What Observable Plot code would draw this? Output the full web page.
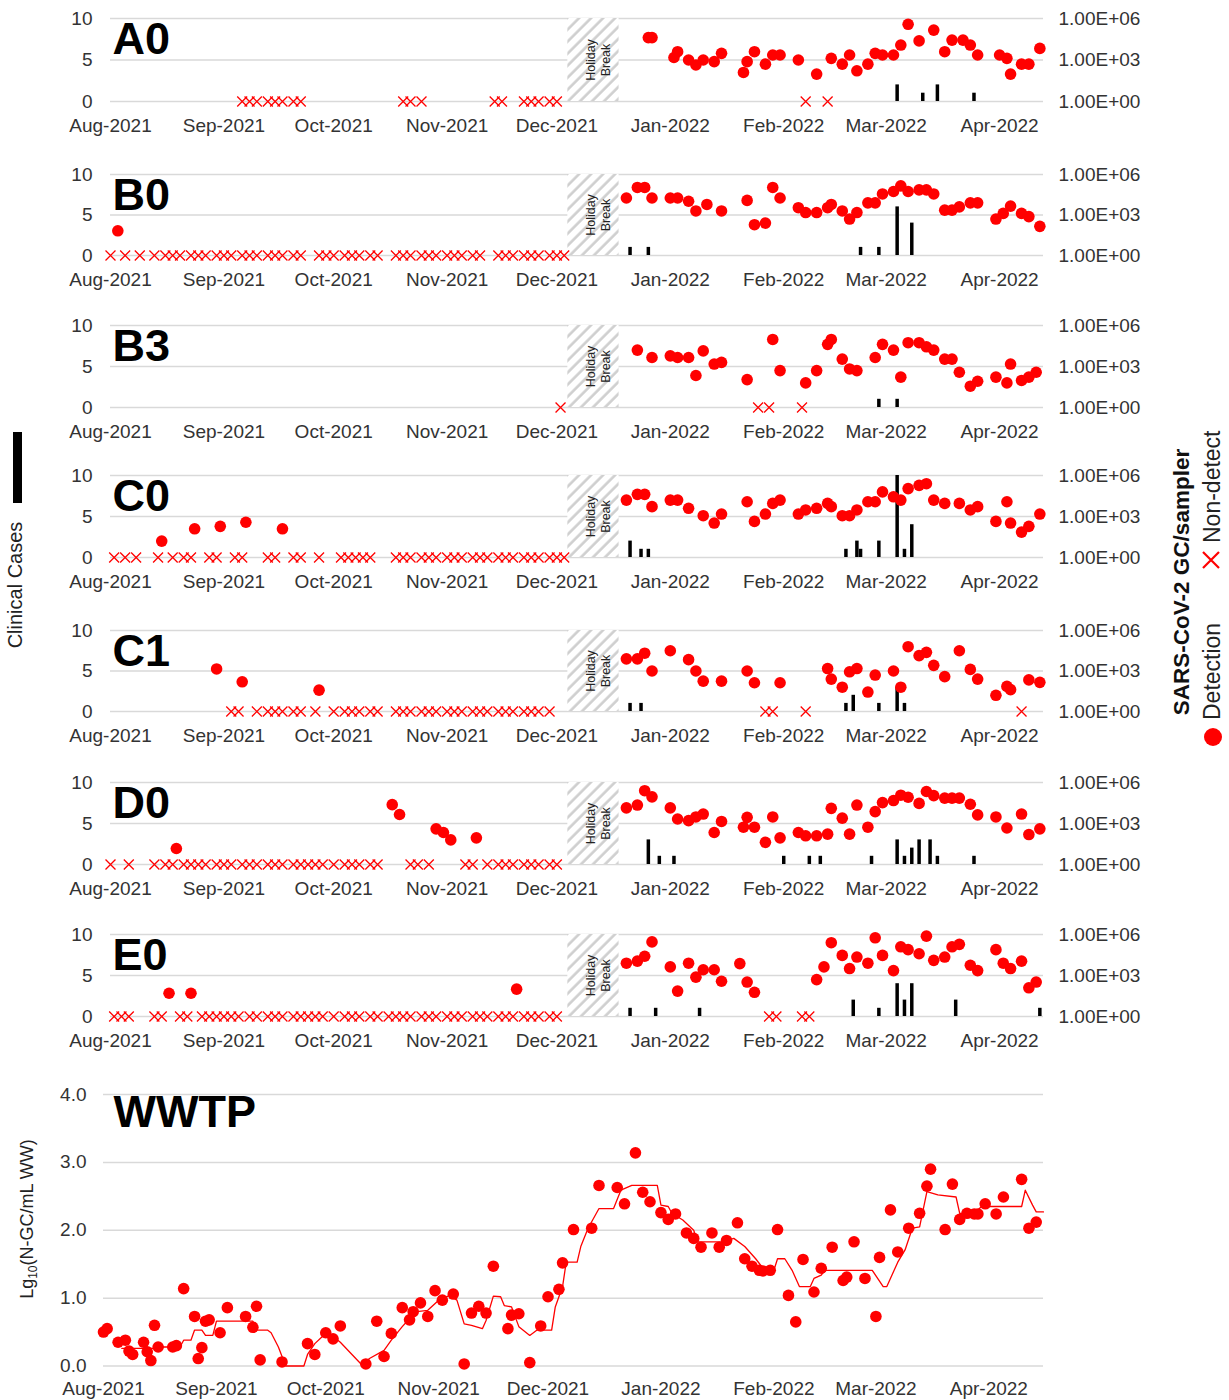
<!DOCTYPE html>
<html><head><meta charset="utf-8">
<script src="https://cdn.jsdelivr.net/npm/d3@7"></script>
<script src="https://cdn.jsdelivr.net/npm/@observablehq/plot@0.6"></script>
<style>
body{margin:0;background:#fff;}
#root{position:relative;width:1229px;height:1400px;overflow:hidden;background:#fff;font-family:'Liberation Sans',Arial,Helvetica,sans-serif;}
#root > svg{position:absolute;left:0;}
</style></head><body><div id="root"></div>
<script>
// ---------------- DATA ----------------
const sites = ["A0","B0","B3","C0","C1","D0","E0"];
const holidayBreak = ["2021-12-04","2021-12-18"];
const gcTickLabels = ["1.00E+00","1.00E+03","1.00E+06"]; // right axis, 10^0, 10^3, 10^6 GC/sampler

// detections: [date, log10 GC/sampler]
const A0_detect = [["2021-12-26",4.62],["2021-12-27",4.62],["2022-01-02",3.18],["2022-01-03",3.6],["2022-01-06",3.0],["2022-01-08",2.64],["2022-01-10",3.0],["2022-01-13",2.88],["2022-01-15",3.48],["2022-01-21",2.1],["2022-01-22",2.88],["2022-01-24",3.6],["2022-01-27",2.7],["2022-01-29",3.36],["2022-01-31",3.36],["2022-02-05",3.0],["2022-02-10",1.98],["2022-02-14",3.12],["2022-02-17",2.7],["2022-02-19",3.36],["2022-02-21",2.22],["2022-02-24",2.7],["2022-02-26",3.48],["2022-02-28",3.36],["2022-03-03",3.36],["2022-03-05",4.08],["2022-03-07",5.58],["2022-03-10",4.38],["2022-03-14",5.16],["2022-03-17",3.6],["2022-03-19",4.44],["2022-03-22",4.44],["2022-03-24",4.08],["2022-03-26",3.36],["2022-04-01",3.36],["2022-04-03",3.12],["2022-04-04",1.98],["2022-04-07",2.7],["2022-04-09",2.7],["2022-04-12",3.84]];
const A0_nondetect = ["2021-09-06","2021-09-08","2021-09-10","2021-09-13","2021-09-15","2021-09-17","2021-09-20","2021-09-22","2021-10-20","2021-10-22","2021-10-25","2021-11-14","2021-11-16","2021-11-22","2021-11-24","2021-11-26","2021-11-29","2021-12-01","2022-02-07","2022-02-13"];
const A0_cases = [["2022-03-04",2],["2022-03-11",1],["2022-03-15",2],["2022-03-25",1]];

const B0_detect = [["2021-08-03",1.83],["2021-12-20",4.26],["2021-12-23",5.04],["2021-12-25",5.04],["2021-12-27",4.26],["2022-01-01",4.26],["2022-01-03",4.26],["2022-01-06",4.02],["2022-01-08",3.3],["2022-01-11",3.78],["2022-01-15",3.3],["2022-01-22",4.08],["2022-01-24",2.28],["2022-01-27",2.4],["2022-01-29",5.04],["2022-01-31",4.26],["2022-02-05",3.54],["2022-02-07",3.18],["2022-02-10",3.18],["2022-02-13",3.54],["2022-02-14",3.78],["2022-02-17",3.3],["2022-02-19",2.7],["2022-02-21",3.18],["2022-02-24",3.9],["2022-02-26",3.9],["2022-02-28",4.56],["2022-03-03",4.74],["2022-03-05",5.16],["2022-03-07",4.74],["2022-03-10",4.86],["2022-03-12",4.86],["2022-03-14",4.56],["2022-03-17",3.36],["2022-03-19",3.36],["2022-03-21",3.6],["2022-03-24",3.9],["2022-03-26",3.9],["2022-03-31",2.7],["2022-04-02",3.12],["2022-04-04",3.66],["2022-04-07",3.12],["2022-04-09",2.88],["2022-04-12",2.16]];
const B0_nondetect = ["2021-08-01","2021-08-05","2021-08-09","2021-08-13","2021-08-16","2021-08-18","2021-08-20","2021-08-23","2021-08-25","2021-08-27","2021-08-30","2021-09-01","2021-09-03","2021-09-06","2021-09-08","2021-09-10","2021-09-13","2021-09-15","2021-09-17","2021-09-20","2021-09-22","2021-09-27","2021-09-29","2021-10-01","2021-10-04","2021-10-06","2021-10-08","2021-10-11","2021-10-13","2021-10-18","2021-10-20","2021-10-22","2021-10-25","2021-10-27","2021-10-29","2021-11-01","2021-11-03","2021-11-05","2021-11-08","2021-11-10","2021-11-15","2021-11-17","2021-11-19","2021-11-22","2021-11-24","2021-11-26","2021-11-29","2021-12-01","2021-12-03"];
const B0_cases = [["2021-12-21",1],["2021-12-26",1],["2022-02-22",1],["2022-02-27",1],["2022-03-04",6],["2022-03-08",4]];

const B3_detect = [["2021-12-23",4.2],["2021-12-27",3.66],["2022-01-01",3.78],["2022-01-03",3.66],["2022-01-06",3.66],["2022-01-08",2.34],["2022-01-10",4.14],["2022-01-13",3.18],["2022-01-15",3.3],["2022-01-22",2.04],["2022-01-29",4.98],["2022-01-31",2.7],["2022-02-07",1.8],["2022-02-10",2.7],["2022-02-13",4.62],["2022-02-14",4.98],["2022-02-17",3.54],["2022-02-19",2.82],["2022-02-21",2.7],["2022-02-26",3.66],["2022-02-28",4.62],["2022-03-03",4.2],["2022-03-05",2.22],["2022-03-07",4.74],["2022-03-10",4.74],["2022-03-12",4.44],["2022-03-14",4.2],["2022-03-17",3.54],["2022-03-19",3.54],["2022-03-21",2.58],["2022-03-24",1.56],["2022-03-26",1.92],["2022-03-31",2.22],["2022-04-03",1.8],["2022-04-04",3.18],["2022-04-07",1.98],["2022-04-09",2.22],["2022-04-11",2.58]];
const B3_nondetect = ["2021-12-02","2022-01-25","2022-01-28","2022-02-06"];
const B3_cases = [["2022-02-27",1],["2022-03-04",1]];

const C0_detect = [["2021-08-15",1.2],["2021-08-24",2.1],["2021-08-31",2.28],["2021-09-07",2.58],["2021-09-17",2.1],["2021-12-20",4.2],["2021-12-23",4.62],["2021-12-25",4.62],["2021-12-27",3.72],["2022-01-01",4.2],["2022-01-03",4.2],["2022-01-06",3.6],["2022-01-10",3.06],["2022-01-13",2.52],["2022-01-15",3.18],["2022-01-22",4.08],["2022-01-24",2.64],["2022-01-27",3.18],["2022-01-29",3.96],["2022-01-31",4.2],["2022-02-05",3.18],["2022-02-07",3.48],["2022-02-10",3.6],["2022-02-13",3.96],["2022-02-14",3.72],["2022-02-17",3.06],["2022-02-19",3.06],["2022-02-21",3.48],["2022-02-24",4.08],["2022-02-26",4.08],["2022-02-28",4.8],["2022-03-03",4.44],["2022-03-05",4.2],["2022-03-07",5.04],["2022-03-10",5.28],["2022-03-12",5.4],["2022-03-14",4.2],["2022-03-17",3.96],["2022-03-21",3.96],["2022-03-24",3.48],["2022-03-26",3.72],["2022-03-31",2.64],["2022-04-03",4.08],["2022-04-04",2.52],["2022-04-07",1.86],["2022-04-09",2.28],["2022-04-12",3.18]];
const C0_nondetect = ["2021-08-02","2021-08-05","2021-08-08","2021-08-14","2021-08-18","2021-08-21","2021-08-23","2021-08-28","2021-08-30","2021-09-04","2021-09-06","2021-09-13","2021-09-15","2021-09-20","2021-09-22","2021-09-27","2021-10-03","2021-10-05","2021-10-07","2021-10-09","2021-10-11","2021-10-18","2021-10-20","2021-10-22","2021-10-25","2021-10-27","2021-10-29","2021-11-01","2021-11-03","2021-11-05","2021-11-08","2021-11-10","2021-11-12","2021-11-15","2021-11-17","2021-11-19","2021-11-22","2021-11-24","2021-11-26","2021-11-29","2021-12-01","2021-12-03"];
const C0_cases = [["2021-12-21",2],["2021-12-24",1],["2021-12-26",1],["2022-02-18",1],["2022-02-21",2],["2022-02-22",1],["2022-02-27",2],["2022-03-04",10],["2022-03-06",1],["2022-03-08",4]];

const C1_detect = [["2021-08-30",3.15],["2021-09-06",2.2],["2021-09-27",1.58],["2021-12-20",3.9],["2021-12-23",3.9],["2021-12-25",4.32],["2021-12-27",3.0],["2022-01-01",4.5],["2022-01-06",3.84],["2022-01-08",3.0],["2022-01-10",2.25],["2022-01-15",2.25],["2022-01-22",3.0],["2022-01-24",2.13],["2022-01-31",2.13],["2022-02-13",3.18],["2022-02-14",2.4],["2022-02-17",1.8],["2022-02-19",2.94],["2022-02-21",3.18],["2022-02-24",1.44],["2022-02-26",2.7],["2022-03-03",3.0],["2022-03-05",1.8],["2022-03-07",4.8],["2022-03-10",4.14],["2022-03-12",4.38],["2022-03-14",3.42],["2022-03-17",2.58],["2022-03-21",4.5],["2022-03-24",3.12],["2022-03-26",2.4],["2022-03-31",1.2],["2022-04-03",1.86],["2022-04-04",1.62],["2022-04-09",2.34],["2022-04-12",2.16]];
const C1_nondetect = ["2021-09-03","2021-09-05","2021-09-10","2021-09-13","2021-09-15","2021-09-17","2021-09-20","2021-09-22","2021-09-26","2021-10-01","2021-10-04","2021-10-06","2021-10-08","2021-10-11","2021-10-13","2021-10-18","2021-10-20","2021-10-22","2021-10-25","2021-10-27","2021-10-29","2021-11-01","2021-11-03","2021-11-05","2021-11-08","2021-11-10","2021-11-12","2021-11-15","2021-11-17","2021-11-19","2021-11-22","2021-11-24","2021-11-26","2021-11-29","2022-01-27","2022-01-29","2022-02-07","2022-04-07"];
const C1_cases = [["2021-12-21",1],["2021-12-24",1],["2022-02-18",1],["2022-02-20",2],["2022-02-27",1],["2022-03-04",3],["2022-03-06",1]];

const D0_detect = [["2021-08-19",1.17],["2021-10-17",4.38],["2021-10-19",3.66],["2021-10-29",2.61],["2021-10-31",2.34],["2021-11-02",1.8],["2021-11-09",1.95],["2021-12-20",4.14],["2021-12-23",4.35],["2021-12-25",5.4],["2021-12-27",4.95],["2022-01-01",4.14],["2022-01-03",3.33],["2022-01-06",3.21],["2022-01-08",3.48],["2022-01-10",3.69],["2022-01-13",2.34],["2022-01-15",3.15],["2022-01-21",2.73],["2022-01-22",3.45],["2022-01-24",2.73],["2022-01-27",1.62],["2022-01-29",3.48],["2022-01-31",1.95],["2022-02-05",2.34],["2022-02-07",2.1],["2022-02-10",2.1],["2022-02-13",2.22],["2022-02-14",4.11],["2022-02-17",3.39],["2022-02-19",2.22],["2022-02-21",4.35],["2022-02-24",2.73],["2022-02-26",3.87],["2022-02-28",4.53],["2022-03-03",4.68],["2022-03-05",5.07],["2022-03-07",4.92],["2022-03-10",4.47],["2022-03-12",5.34],["2022-03-14",5.04],["2022-03-17",4.86],["2022-03-19",4.86],["2022-03-21",4.86],["2022-03-24",4.41],["2022-03-26",3.63],["2022-03-31",3.48],["2022-04-03",2.67],["2022-04-07",3.69],["2022-04-09",2.19],["2022-04-12",2.61]];
const D0_nondetect = ["2021-08-01","2021-08-06","2021-08-13","2021-08-16","2021-08-18","2021-08-21","2021-08-23","2021-08-25","2021-08-27","2021-08-30","2021-09-01","2021-09-03","2021-09-06","2021-09-08","2021-09-10","2021-09-13","2021-09-15","2021-09-17","2021-09-20","2021-09-22","2021-09-24","2021-09-26","2021-09-28","2021-10-01","2021-10-04","2021-10-06","2021-10-08","2021-10-11","2021-10-13","2021-10-22","2021-10-24","2021-10-27","2021-11-06","2021-11-08","2021-11-12","2021-11-15","2021-11-17","2021-11-19","2021-11-22","2021-11-24","2021-11-26","2021-11-29","2021-12-01"];
const D0_cases = [["2021-12-26",3],["2021-12-29",1],["2022-01-02",1],["2022-02-01",1],["2022-02-08",1],["2022-02-11",1],["2022-02-25",1],["2022-03-04",3],["2022-03-06",1],["2022-03-08",2],["2022-03-10",3],["2022-03-13",3],["2022-03-15",1],["2022-03-25",1]];

const E0_detect = [["2021-08-17",1.7],["2021-08-23",1.7],["2021-11-20",2.0],["2021-12-20",3.9],["2021-12-23",4.05],["2021-12-25",4.41],["2021-12-27",5.46],["2022-01-01",3.63],["2022-01-03",1.86],["2022-01-06",3.9],["2022-01-08",2.88],["2022-01-10",3.42],["2022-01-13",3.42],["2022-01-15",2.58],["2022-01-20",3.87],["2022-01-22",2.52],["2022-01-24",1.77],["2022-02-10",2.7],["2022-02-12",3.63],["2022-02-14",5.4],["2022-02-17",4.47],["2022-02-19",3.51],["2022-02-21",4.35],["2022-02-24",3.9],["2022-02-26",5.76],["2022-02-28",4.47],["2022-03-03",3.36],["2022-03-05",5.1],["2022-03-07",4.89],["2022-03-10",4.59],["2022-03-12",5.88],["2022-03-14",4.11],["2022-03-17",4.35],["2022-03-19",5.1],["2022-03-21",5.28],["2022-03-24",3.75],["2022-03-26",3.36],["2022-03-31",4.89],["2022-04-02",3.9],["2022-04-04",3.51],["2022-04-07",4.05],["2022-04-09",2.1],["2022-04-11",2.52]];
const E0_nondetect = ["2021-08-02","2021-08-04","2021-08-06","2021-08-13","2021-08-15","2021-08-20","2021-08-22","2021-08-26","2021-08-28","2021-08-30","2021-09-01","2021-09-03","2021-09-05","2021-09-08","2021-09-10","2021-09-13","2021-09-15","2021-09-17","2021-09-20","2021-09-22","2021-09-24","2021-09-26","2021-09-28","2021-10-01","2021-10-04","2021-10-06","2021-10-08","2021-10-11","2021-10-13","2021-10-16","2021-10-18","2021-10-20","2021-10-22","2021-10-25","2021-10-27","2021-10-29","2021-11-01","2021-11-03","2021-11-05","2021-11-08","2021-11-10","2021-11-12","2021-11-15","2021-11-17","2021-11-19","2021-11-22","2021-11-24","2021-11-26","2021-11-29","2021-12-01","2022-01-28","2022-01-30","2022-02-06","2022-02-08"];
const E0_cases = [["2021-12-21",1],["2021-12-28",1],["2022-01-09",1],["2022-02-20",2],["2022-02-27",1],["2022-03-04",4],["2022-03-06",2],["2022-03-08",4],["2022-03-20",2],["2022-04-12",1]];

// WWTP: Lg10(N-GC/mL WW) samples and the running line
const WWTP_samples = [["2021-08-01",0.50],["2021-08-02",0.55],["2021-08-05",0.35],["2021-08-07",0.38],["2021-08-08",0.22],["2021-08-09",0.17],["2021-08-12",0.35],["2021-08-13",0.21],["2021-08-14",0.08],["2021-08-15",0.60],["2021-08-16",0.28],["2021-08-20",0.28],["2021-08-21",0.30],["2021-08-23",1.14],["2021-08-26",0.73],["2021-08-27",0.11],["2021-08-28",0.27],["2021-08-29",0.66],["2021-08-30",0.68],["2021-09-02",0.49],["2021-09-04",0.86],["2021-09-09",0.73],["2021-09-11",0.57],["2021-09-12",0.88],["2021-09-13",0.09],["2021-09-19",0.06],["2021-09-26",0.33],["2021-09-28",0.17],["2021-10-01",0.49],["2021-10-03",0.40],["2021-10-05",0.59],["2021-10-12",0.03],["2021-10-15",0.66],["2021-10-17",0.14],["2021-10-19",0.48],["2021-10-22",0.86],["2021-10-24",0.68],["2021-10-25",0.80],["2021-10-27",0.93],["2021-10-29",0.73],["2021-10-31",1.11],["2021-11-02",0.97],["2021-11-05",1.06],["2021-11-08",0.03],["2021-11-10",0.78],["2021-11-12",0.88],["2021-11-14",0.78],["2021-11-16",1.47],["2021-11-20",0.55],["2021-11-21",0.75],["2021-11-23",0.77],["2021-11-26",0.05],["2021-11-29",0.59],["2021-12-01",1.02],["2021-12-04",1.13],["2021-12-05",1.52],["2021-12-08",2.01],["2021-12-13",2.03],["2021-12-15",2.66],["2021-12-20",2.63],["2021-12-22",2.39],["2021-12-25",3.14],["2021-12-27",2.56],["2021-12-29",2.42],["2022-01-01",2.26],["2022-01-03",2.16],["2022-01-05",2.24],["2022-01-08",1.96],["2022-01-10",1.88],["2022-01-12",1.75],["2022-01-15",1.96],["2022-01-17",1.75],["2022-01-19",1.85],["2022-01-22",2.11],["2022-01-24",1.58],["2022-01-26",1.47],["2022-01-28",1.41],["2022-01-29",1.40],["2022-01-31",1.41],["2022-02-02",2.01],["2022-02-05",1.04],["2022-02-07",0.65],["2022-02-09",1.57],["2022-02-12",1.09],["2022-02-14",1.44],["2022-02-17",1.75],["2022-02-20",1.26],["2022-02-21",1.31],["2022-02-23",1.83],["2022-02-26",1.29],["2022-03-01",0.73],["2022-03-02",1.60],["2022-03-05",2.30],["2022-03-07",1.68],["2022-03-10",2.03],["2022-03-13",2.25],["2022-03-15",2.65],["2022-03-16",2.90],["2022-03-20",2.01],["2022-03-22",2.68],["2022-03-24",2.16],["2022-03-26",2.25],["2022-03-28",2.24],["2022-03-29",2.24],["2022-03-31",2.39],["2022-04-03",2.24],["2022-04-05",2.49],["2022-04-10",2.75],["2022-04-12",2.03],["2022-04-14",2.12]];
const WWTP_line = [["2021-08-06",0.26],["2021-08-15",0.26],["2021-08-16",0.28],["2021-08-22",0.28],["2021-08-23",0.38],["2021-08-25",0.38],["2021-08-26",0.53],["2021-08-28",0.53],["2021-08-29",0.45],["2021-08-31",0.45],["2021-09-01",0.66],["2021-09-11",0.66],["2021-09-12",0.53],["2021-09-15",0.53],["2021-09-16",0.49],["2021-09-18",0.28],["2021-09-20",0.0],["2021-09-25",0.0],["2021-09-26",0.17],["2021-09-28",0.33],["2021-09-30",0.43],["2021-10-02",0.48],["2021-10-05",0.35],["2021-10-08",0.18],["2021-10-11",0.01],["2021-10-13",0.11],["2021-10-17",0.23],["2021-10-19",0.38],["2021-10-22",0.58],["2021-10-24",0.70],["2021-10-26",0.80],["2021-10-29",0.82],["2021-11-01",0.97],["2021-11-04",1.04],["2021-11-06",0.97],["2021-11-08",0.62],["2021-11-10",0.60],["2021-11-13",0.55],["2021-11-14",0.67],["2021-11-16",1.03],["2021-11-18",1.02],["2021-11-19",0.89],["2021-11-21",0.87],["2021-11-23",0.58],["2021-11-26",0.45],["2021-11-28",0.53],["2021-12-02",0.53],["2021-12-03",0.87],["2021-12-05",1.17],["2021-12-06",1.53],["2021-12-09",1.53],["2021-12-10",1.76],["2021-12-12",2.03],["2021-12-15",2.32],["2021-12-19",2.32],["2021-12-21",2.59],["2021-12-24",2.66],["2021-12-31",2.66],["2022-01-01",2.37],["2022-01-03",2.35],["2022-01-04",2.25],["2022-01-07",2.15],["2022-01-10",2.00],["2022-01-11",1.83],["2022-01-18",1.83],["2022-01-21",1.88],["2022-01-24",1.76],["2022-01-27",1.58],["2022-01-29",1.44],["2022-02-01",1.41],["2022-02-02",1.58],["2022-02-04",1.58],["2022-02-06",1.41],["2022-02-08",1.17],["2022-02-11",1.17],["2022-02-12",1.29],["2022-02-14",1.34],["2022-02-15",1.41],["2022-02-28",1.41],["2022-03-03",1.17],["2022-03-04",1.17],["2022-03-07",1.53],["2022-03-09",1.71],["2022-03-11",2.03],["2022-03-13",2.05],["2022-03-15",2.57],["2022-03-18",2.52],["2022-03-23",2.49],["2022-03-24",2.25],["2022-03-28",2.25],["2022-03-30",2.35],["2022-04-10",2.35],["2022-04-11",2.59],["2022-04-13",2.37],["2022-04-14",2.27],["2022-04-16",2.27]];

// ---------------- LAYOUT / STYLE ----------------
const FONT = "'Liberation Sans', Arial, Helvetica, sans-serif";
const RED = "#ff0000";
const siteData = {
  A0: [A0_detect, A0_nondetect, A0_cases], B0: [B0_detect, B0_nondetect, B0_cases],
  B3: [B3_detect, B3_nondetect, B3_cases], C0: [C0_detect, C0_nondetect, C0_cases],
  C1: [C1_detect, C1_nondetect, C1_cases], D0: [D0_detect, D0_nondetect, D0_cases],
  E0: [E0_detect, E0_nondetect, E0_cases]
};
const panelTop = {A0: 18, B0: 174, B3: 325, C0: 475, C1: 630, D0: 782, E0: 934};
const panelBottom = {A0: 101, B0: 255, B3: 407, C0: 557, C1: 711, D0: 864, E0: 1016};

const root = document.getElementById("root");
const P = s => new Date(s);
const smallDomain = [P("2021-08-01"), P("2022-04-13")];
const wwtpDomain = [P("2021-08-01"), P("2022-04-16")];
const monthTicks = d3.utcMonths(P("2021-08-01"), P("2022-04-02"));
const fmtMonth = d3.utcFormat("%b-%Y");
const lgToCases = lg => lg * 10 / 6; // 10 case units span 6 decades

// overlay svg with pattern + legends
const ov = d3.select(root).append("svg").attr("width", 1229).attr("height", 1400)
  .style("top", "0px").style("pointer-events", "none").style("font-family", FONT);
const pat = ov.append("defs").append("pattern").attr("id", "hatch").attr("patternUnits", "userSpaceOnUse")
  .attr("width", 8.5).attr("height", 8.5).attr("patternTransform", "rotate(45)");
pat.append("rect").attr("width", 8.5).attr("height", 8.5).attr("fill", "#fff");
pat.append("line").attr("x1", 1.5).attr("y1", 0).attr("x2", 1.5).attr("y2", 8.5).attr("stroke", "#cfcfcf").attr("stroke-width", 2.6);

// left legend: clinical cases
ov.append("rect").attr("x", 13).attr("y", 432).attr("width", 9).attr("height", 71).attr("fill", "#000");
ov.append("text").attr("transform", "translate(22,585) rotate(-90)").attr("text-anchor", "middle")
  .attr("font-size", 20).attr("fill", "#222").text("Clinical Cases");
// right legend
ov.append("text").attr("transform", "translate(1189,582) rotate(-90)").attr("text-anchor", "middle")
  .attr("font-size", 22.5).attr("font-weight", "bold").attr("fill", "#111").text("SARS-CoV-2 GC/sampler");
ov.append("text").attr("transform", "translate(1220,720) rotate(-90)").attr("text-anchor", "start")
  .attr("font-size", 23).attr("fill", "#222").text("Detection");
ov.append("text").attr("transform", "translate(1220,543) rotate(-90)").attr("text-anchor", "start")
  .attr("font-size", 23).attr("fill", "#222").text("Non-detect");
ov.append("path").attr("d", "M1203,552L1219,568M1219,552L1203,568").attr("stroke", RED).attr("stroke-width", 2.2).attr("fill", "none");
ov.append("circle").attr("cx", 1213).attr("cy", 737).attr("r", 9).attr("fill", RED);
// WWTP y label
const yl = ov.append("text").attr("transform", "translate(33,1219) rotate(-90)").attr("text-anchor", "middle")
  .attr("font-size", 18).attr("fill", "#222");
yl.append("tspan").text("Lg");
yl.append("tspan").attr("font-size", 12).attr("dy", 4).text("10");
yl.append("tspan").attr("dy", -4).text("(N-GC/mL WW)");

const baseStyle = {fontFamily: FONT, fontSize: "19px", color: "#333", background: "transparent", overflow: "visible"};

for (const name of sites) {
  const [det, nd, cases] = siteData[name];
  const top = panelTop[name], h = panelBottom[name] - top, mt = 12, mb = 42;
  const hb = [{x1: P(holidayBreak[0]), x2: P(holidayBreak[1])}];
  const chart = Plot.plot({
    width: 1229, height: mt + h + mb,
    marginTop: mt, marginBottom: mb, marginLeft: 110, marginRight: 186,
    style: baseStyle,
    x: {type: "utc", domain: smallDomain},
    y: {domain: [0, 10]},
    marks: [
      Plot.gridY([0, 5, 10], {stroke: "#d9d9d9", strokeOpacity: 1, strokeWidth: 1.5}),
      Plot.rect(hb, {x1: "x1", x2: "x2", y1: 0, y2: 10, fill: "url(#hatch)"}),
      Plot.text(hb, {x: d => new Date((+d.x1 + +d.x2) / 2), y: 5, dx: 4, text: () => "Holiday\nBreak", rotate: -90, fontSize: 12.5, lineHeight: 1.2, fill: "#222"}),
      Plot.axisX({ticks: monthTicks, tickFormat: fmtMonth, tickSize: 0, tickPadding: 17, label: null}),
      Plot.axisY({ticks: [0, 5, 10], anchor: "left", tickSize: 0, tickPadding: 18, label: null}),
      Plot.axisY({ticks: [0, 5, 10], anchor: "right", tickSize: 0, tickPadding: 15, label: null,
        tickFormat: v => gcTickLabels[Math.round(v / 5)]}),
      Plot.ruleX(cases, {x: d => P(d[0]), y1: 0, y2: d => d[1], stroke: "#000", strokeWidth: 3.5}),
      Plot.dot(nd, {x: d => P(d), y: 0, symbol: "times", r: 4.6, stroke: RED, strokeWidth: 1.3}),
      Plot.dot(det, {x: d => P(d[0]), y: d => lgToCases(d[1]), r: 5.8, fill: RED}),
      Plot.text([name], {frameAnchor: "top-left", text: d => d, dx: 2, dy: 4, lineAnchor: "top", textAnchor: "start", fontSize: 45, fontWeight: "bold", fill: "#000"})
    ]
  });
  chart.style.top = (top - mt) + "px";
  root.append(chart);
}

// WWTP panel
{
  const top = 1094, h = 271.5, mt = 12, mb = 42;
  const chart = Plot.plot({
    width: 1229, height: mt + h + mb,
    marginTop: mt, marginBottom: mb, marginLeft: 103, marginRight: 186,
    style: baseStyle,
    x: {type: "utc", domain: wwtpDomain},
    y: {domain: [0, 4]},
    marks: [
      Plot.gridY([0, 1, 2, 3, 4], {stroke: "#d9d9d9", strokeOpacity: 1, strokeWidth: 1.5}),
      Plot.axisX({ticks: monthTicks, tickFormat: fmtMonth, tickSize: 0, tickPadding: 15, label: null}),
      Plot.axisY({ticks: [0, 1, 2, 3, 4], tickFormat: d3.format(".1f"), tickSize: 0, tickPadding: 17, label: null}),
      Plot.line(WWTP_line, {x: d => P(d[0]), y: d => d[1], stroke: RED, strokeWidth: 1.3}),
      Plot.dot(WWTP_samples, {x: d => P(d[0]), y: d => d[1], r: 5.8, fill: RED}),
      Plot.text(["WWTP"], {frameAnchor: "top-left", text: d => d, dx: 10, dy: 1, lineAnchor: "top", textAnchor: "start", fontSize: 45, fontWeight: "bold", fill: "#000"})
    ]
  });
  chart.style.top = (top - mt) + "px";
  root.append(chart);
}
</script></body></html>
